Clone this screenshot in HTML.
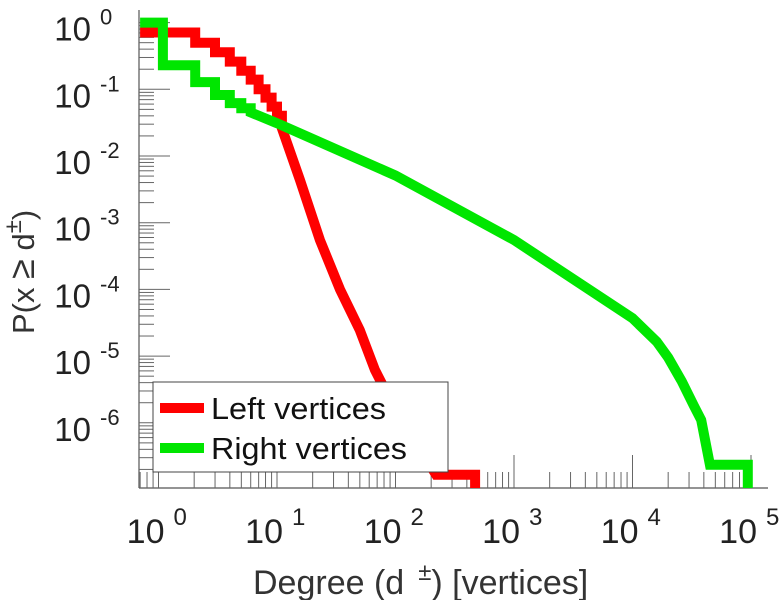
<!DOCTYPE html>
<html><head><meta charset="utf-8"><style>
html,body{margin:0;padding:0;background:#fff;}
svg{display:block;font-family:"Liberation Sans",sans-serif;}
</style></head><body>
<svg id="chart" width="782" height="600" viewBox="0 0 782 600" xmlns="http://www.w3.org/2000/svg">
<g id="axes"></g>
<g id="series"></g>
<g id="legend">
  <rect x="153" y="382" width="295" height="90" fill="#fff" stroke="#444" stroke-width="1"/>
  <line x1="160" y1="408" x2="204" y2="408" stroke="#ff0000" stroke-width="10"/>
  <text x="211" y="419" font-size="31" fill="#111" textLength="175" lengthAdjust="spacingAndGlyphs">Left vertices</text>
  <line x1="160" y1="448" x2="204" y2="448" stroke="#00e600" stroke-width="10"/>
  <text x="211" y="459" font-size="31" fill="#111" textLength="196" lengthAdjust="spacingAndGlyphs">Right vertices</text>
</g>
<text x="253" y="594" font-size="34" fill="#333"><tspan>Degree (d</tspan><tspan dx="14" dy="-14" font-size="24">±</tspan><tspan dy="14">) [vertices]</tspan></text>
<text transform="translate(34,334) rotate(-90)" font-size="31" fill="#333"><tspan>P(x </tspan><tspan font-size="36">≥</tspan><tspan> d</tspan><tspan dy="-13" font-size="24">±</tspan><tspan dy="13">)</tspan></text>
</svg>
<script>
const xTickExps = [0, 1, 2, 3, 4, 5];
const yTickExps = [0, -1, -2, -3, -4, -5, -6];
// first N intervals are drawn as stairs, the rest as connected segments
const leftStepCount = 11;
const leftDegrees = [0.7, 1.09, 2.04, 3, 4, 5, 6, 7, 8, 9, 10, 11, 15.6, 23, 34, 50, 67, 81, 120, 220, 470];
const leftProb =    [0.71, 0.71, 0.5, 0.36, 0.26, 0.19, 0.14, 0.1, 0.075, 0.055, 0.04, 0.026, 0.0044, 0.00055, 0.0001, 0.0000245, 0.0000062, 0.0000032, 0.0000009, 0.000000166, 0.000000166];
const rightStepCount = 6;
const rightDegrees = [0.7, 1.09, 2.04, 3, 4, 5, 6, 10, 100, 1000, 10000, 16000, 20000, 26000, 33000, 38000, 45000, 94000];
const rightProb =    [1, 0.23, 0.128, 0.082, 0.062, 0.052, 0.045, 0.031, 0.0051, 0.00055, 0.000037, 0.0000165, 0.0000095, 0.0000042, 0.0000018, 0.0000011, 0.000000235, 0.000000235];

const NS = "http://www.w3.org/2000/svg";
const X0 = 158.5, XD = 118.5, Y0 = 22.6, YD = 66.7;
const AXL = 139, AXB = 488, AXR = 768, AXT = 10;
function xs(d){ return X0 + XD*Math.log10(d); }
function ys(p){ return Y0 - YD*Math.log10(p); }
function mk(tag, attrs, parent){
  const e = document.createElementNS(NS, tag);
  for (const k in attrs) e.setAttribute(k, attrs[k]);
  parent.appendChild(e); return e;
}
const axes = document.getElementById('axes');
const series = document.getElementById('series');

let a = mk('line',{x1:AXL,y1:AXT,x2:AXL,y2:AXB,stroke:'#555','stroke-width':1.2},axes);


a = mk('line',{x1:AXL,y1:AXB,x2:AXR,y2:AXB,stroke:'#555','stroke-width':1.2},axes);



for (let e = 0; e >= -7; e--) {
  for (let m = 1; m <= 9; m++) {
    const p = m * Math.pow(10, e);
    const y = ys(p);
    if (y < AXT || y > AXB) continue;
    const len = (m === 1) ? 31 : 15;
    const t = mk('line',{x1:AXL,y1:y,x2:AXL+len,y2:y,stroke:'#666','stroke-width':1},axes);
    
    
  }
}
for (let e = -1; e <= 5; e++) {
  for (let m = 1; m <= 9; m++) {
    const d = m * Math.pow(10, e);
    const x = xs(d);
    if (x < AXL || x > AXR) continue;
    const len = (m === 1) ? 33 : 16;
    const t = mk('line',{x1:x,y1:AXB,x2:x,y2:AXB-len,stroke:'#666','stroke-width':1},axes);
    
    
  }
}
yTickExps.forEach(function(e){
  const y = ys(Math.pow(10,e));
  const t = mk('text',{x:91,y:y+18,'font-size':33,fill:'#222','text-anchor':'end'},axes);
  t.textContent = '10';
  
  
  const s = mk('text',{x:100,y:y+2,'font-size':22,fill:'#222'},axes);
  s.textContent = e === 0 ? '0' : String(e);
  
  
});
xTickExps.forEach(function(e){
  const x = xs(Math.pow(10,e));
  const t = mk('text',{x:x+6,y:543,'font-size':34,fill:'#222','text-anchor':'end'},axes);
  t.textContent = '10';
  
  
  const s = mk('text',{x:x+15,y:525,'font-size':24,fill:'#222'},axes);
  s.textContent = String(e);
  
  
});

function path(ds, ps, nStep){
  let pts = [];
  const n = ds.length;
  for (let i = 0; i < n; i++) {
    const x = Math.max(AXL, xs(ds[i]));
    const y = ys(ps[i]);
    if (i > 0 && (i <= nStep || i === n - 1)) pts.push([x, ys(ps[i-1])]);
    pts.push([x, y]);
  }
  pts.push([xs(ds[n-1]), AXB]);
  return pts.map(function(p){return p[0].toFixed(1)+','+p[1].toFixed(1);}).join(' ');
}
let r = mk('polyline',{points:path(leftDegrees,leftProb,leftStepCount),fill:'none',stroke:'#ff0000','stroke-width':10,'stroke-linejoin':'miter'},series);


let g = mk('polyline',{points:path(rightDegrees,rightProb,rightStepCount),fill:'none',stroke:'#00e600','stroke-width':10,'stroke-linejoin':'miter'},series);


document.getElementById('chart').appendChild(document.getElementById('legend'));
</script>
</body></html>
